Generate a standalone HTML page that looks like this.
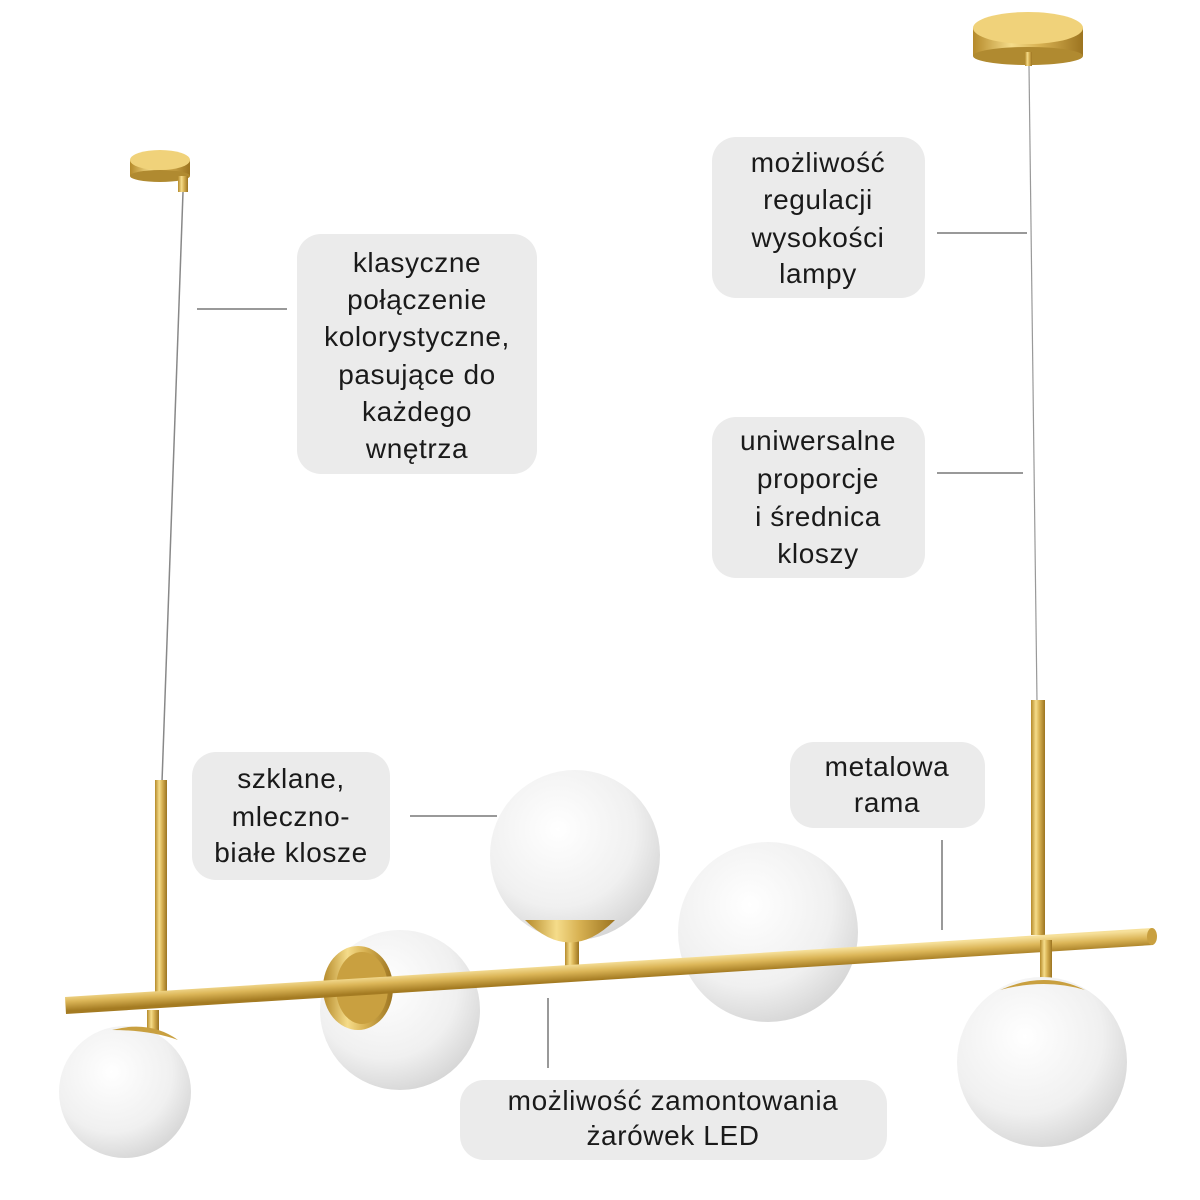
<!DOCTYPE html>
<html><head><meta charset="utf-8"><style>
html,body{margin:0;padding:0;background:#fff;}
svg{display:block}
text{font-family:"Liberation Sans",sans-serif;font-size:28px;fill:#1a1a1a;text-anchor:middle;letter-spacing:0.6px}
</style></head><body>
<svg width="1200" height="1200" viewBox="0 0 1200 1200" xmlns="http://www.w3.org/2000/svg">
<defs>
<linearGradient id="gold" x1="0" y1="0" x2="1" y2="0">
<stop offset="0" stop-color="#b58a2a"/><stop offset="0.35" stop-color="#f5dc8a"/><stop offset="0.6" stop-color="#d8b253"/><stop offset="1" stop-color="#9c7420"/></linearGradient>
<linearGradient id="barg" gradientUnits="userSpaceOnUse" x1="608" y1="962" x2="609" y2="979">
<stop offset="0" stop-color="#f6e09a"/><stop offset="0.45" stop-color="#dcb658"/><stop offset="1" stop-color="#a47b22"/></linearGradient>
<radialGradient id="glass" cx="0.4" cy="0.35" r="0.7">
<stop offset="0" stop-color="#ffffff"/><stop offset="0.65" stop-color="#f0f0f0"/><stop offset="1" stop-color="#d4d4d4"/></radialGradient>
</defs>
<!-- canopies -->
<rect x="130" y="160" width="60" height="16" fill="url(#gold)"/>
<ellipse cx="160" cy="176" rx="30" ry="6" fill="#b08a30"/>
<ellipse cx="160" cy="160" rx="30" ry="10" fill="#f0d27a"/>
<rect x="178" y="176" width="10" height="16" fill="url(#gold)"/>
<rect x="973" y="28" width="110" height="28" fill="url(#gold)"/>
<ellipse cx="1028" cy="56" rx="55" ry="9" fill="#b08a30"/>
<ellipse cx="1028" cy="28" rx="55" ry="16" fill="#f0d27a"/>
<rect x="1025" y="52" width="7" height="14" fill="url(#gold)"/>
<!-- cables -->
<line x1="183" y1="192" x2="162" y2="782" stroke="#888" stroke-width="1.5"/>
<line x1="1029" y1="66" x2="1037" y2="702" stroke="#999" stroke-width="1.2"/>
<!-- rods -->
<rect x="155" y="780" width="12" height="222" fill="url(#gold)"/>
<rect x="1031" y="700" width="14" height="235" fill="url(#gold)"/>
<!-- globes behind bar -->
<circle cx="400" cy="1010" r="80" fill="url(#glass)"/>
<ellipse cx="358" cy="988" rx="35" ry="42" fill="url(#gold)"/>
<ellipse cx="362" cy="988" rx="26" ry="36" fill="#c9a040"/>
<rect x="565" y="930" width="14" height="40" fill="url(#gold)"/>
<circle cx="575" cy="855" r="85" fill="url(#glass)"/>
<path d="M525 920 Q570 965 615 920 Z" fill="url(#gold)"/>
<circle cx="768" cy="932" r="90" fill="url(#glass)"/>
<!-- bar -->
<polygon points="65,997 1152,928 1153,945 66,1014" fill="url(#barg)"/>
<ellipse cx="1152" cy="936.5" rx="5" ry="8.5" fill="#c9a040"/>
<!-- hanging globes -->
<rect x="147" y="1010" width="12" height="22" fill="url(#gold)"/>
<circle cx="125" cy="1092" r="66" fill="url(#glass)"/>
<path d="M112 1030 Q150 1020 178 1040 Q150 1030 112 1030Z" fill="#c9a040"/>
<rect x="1040" y="940" width="12" height="40" fill="url(#gold)"/>
<circle cx="1042" cy="1062" r="85" fill="url(#glass)"/>
<path d="M1000 990 Q1045 970 1085 990 Q1045 978 1000 990Z" fill="#c9a040"/>
<!-- connectors -->
<g stroke="#333" stroke-width="1">
<line x1="197" y1="309" x2="287" y2="309"/>
<line x1="937" y1="233" x2="1027" y2="233"/>
<line x1="937" y1="473" x2="1023" y2="473"/>
<line x1="410" y1="816" x2="497" y2="816"/>
<line x1="942" y1="840" x2="942" y2="930"/>
<line x1="548" y1="998" x2="548" y2="1068"/>
</g>
<!-- boxes -->
<g fill="#ebebeb">
<rect x="297" y="234" width="240" height="240" rx="24"/>
<rect x="712" y="137" width="213" height="161" rx="24"/>
<rect x="712" y="417" width="213" height="161" rx="24"/>
<rect x="192" y="752" width="198" height="128" rx="24"/>
<rect x="790" y="742" width="195" height="86" rx="24"/>
<rect x="460" y="1080" width="427" height="80" rx="24"/>
</g>
<text x="417" y="272">klasyczne</text>
<text x="417" y="309">połączenie</text>
<text x="417" y="346">kolorystyczne,</text>
<text x="417" y="384">pasujące do</text>
<text x="417" y="421">każdego</text>
<text x="417" y="458">wnętrza</text>
<text x="818" y="172">możliwość</text>
<text x="818" y="209">regulacji</text>
<text x="818" y="247">wysokości</text>
<text x="818" y="283">lampy</text>
<text x="818" y="450">uniwersalne</text>
<text x="818" y="488">proporcje</text>
<text x="818" y="526">i średnica</text>
<text x="818" y="563">kloszy</text>
<text x="291" y="788">szklane,</text>
<text x="291" y="826">mleczno-</text>
<text x="291" y="862">białe klosze</text>
<text x="887" y="776">metalowa</text>
<text x="887" y="812">rama</text>
<text x="673" y="1110">możliwość zamontowania</text>
<text x="673" y="1145">żarówek LED</text>
</svg>
</body></html>
